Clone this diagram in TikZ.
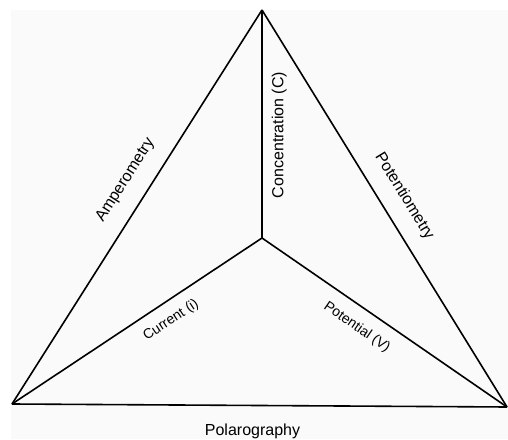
\documentclass[tikz,border=0pt]{standalone}
\usepackage{fontspec}
\setmainfont{Liberation Sans}
\usepackage{tikz}
\usetikzlibrary{calc}

\begin{document}
\begin{tikzpicture}[
    x=1pt, y=1pt,
    edge/.style={draw, line width=1.6pt, line join=miter},
    method/.style={font=\fontsize{16}{18}\selectfont, inner sep=0pt},
    quantity/.style={font=\fontsize{14}{16}\selectfont, inner sep=0pt},
  ]

  \useasboundingbox (0,0) rectangle (508,439);
  \fill[black!2] (11,0) rectangle (508,429);

  \coordinate (apex) at (262,429);
  \coordinate (bl) at (12,35);
  \coordinate (br) at (507,32);
  \coordinate (ctr) at (262,201);

  % outer triangle
  \draw[edge] (bl) -- node[method, pos=0.535, sloped, above=16pt] {Amperometry} (apex);
  \draw[edge] (apex) -- node[method, pos=0.50, sloped, above=15pt] {Potentiometry} (br);
  \draw[edge] (br) -- (bl);
  \node[method] (polar) at ($(bl)!0.5!(br)+(-7,-26)$) {Polarography};

  % inner spokes
  \draw[edge] (ctr) -- node[method, pos=0.452, sloped, below=9pt] {Concentration (C)} (apex);
  \draw[edge] (bl) -- node[quantity, pos=0.596, sloped, below=11pt] {Current (i)} (ctr);
  \draw[edge] (ctr) -- node[quantity, pos=0.433, sloped, below=12.5pt] {Potential (V)} (br);

\end{tikzpicture}
\end{document}
